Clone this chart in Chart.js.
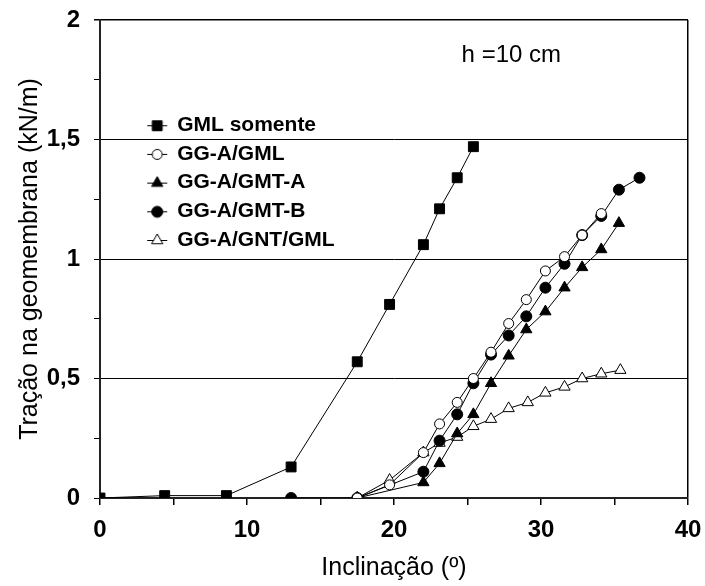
<!DOCTYPE html>
<html>
<head>
<meta charset="utf-8">
<script src="https://cdn.jsdelivr.net/npm/chart.js@4/dist/chart.umd.min.js"></script>
<style>
  body { margin: 0; background: #fff; }
  #wrap { width: 705px; height: 586px; }
</style>
</head>
<body>
<div id="wrap"><canvas id="chart" width="705" height="586"></canvas></div>
<script>
// series data (x = inclinação in degrees, y = tração in kN/m)
const labels = ['GML somente', 'GG-A/GML', 'GG-A/GMT-A', 'GG-A/GMT-B', 'GG-A/GNT/GML'];

const gmlX = [0, 4.4, 8.6, 13.0, 17.5, 19.7, 22.0, 23.1, 24.3, 25.4];
const gmlY = [0, 0.01, 0.01, 0.13, 0.57, 0.81, 1.06, 1.21, 1.34, 1.47];

const ggaGmlX = [17.5, 19.7, 22.0, 23.1, 24.3, 25.4, 26.6, 27.8, 29.0, 30.3, 31.6, 32.8, 34.1];
const ggaGmlY = [0, 0.055, 0.19, 0.31, 0.40, 0.50, 0.61, 0.73, 0.83, 0.95, 1.01, 1.10, 1.19];

const gmtAX = [17.5, 22.0, 23.1, 24.3, 25.4, 26.6, 27.8, 29.0, 30.3, 31.6, 32.8, 34.1, 35.3];
const gmtAY = [0, 0.065, 0.145, 0.27, 0.35, 0.48, 0.595, 0.705, 0.78, 0.88, 0.965, 1.04, 1.15];

const gmtBX = [13.0, 17.5, 22.0, 23.1, 24.3, 25.4, 26.6, 27.8, 29.0, 30.3, 31.6, 32.8, 34.1, 35.3, 36.7];
const gmtBY = [0, 0, 0.11, 0.24, 0.35, 0.48, 0.60, 0.68, 0.76, 0.88, 0.98, 1.10, 1.18, 1.29, 1.34];

const gntX = [17.5, 19.7, 22.0, 23.1, 24.3, 25.4, 26.6, 27.8, 29.1, 30.3, 31.6, 32.8, 34.1, 35.4];
const gntY = [0, 0.075, 0.19, 0.23, 0.255, 0.30, 0.33, 0.375, 0.40, 0.44, 0.465, 0.50, 0.52, 0.535];

const xTicksMajor = [0, 10, 20, 30, 40];
const yTicksMajor = [0, 0.5, 1, 1.5, 2];

const FONT = '"Liberation Sans", Arial, Helvetica, sans-serif';
Chart.defaults.font.family = FONT;
Chart.defaults.color = '#000';

function pts(xs, ys) {
  return xs.map((x, i) => ({ x: x, y: ys[i] }));
}

const styles = [
  { pointStyle: 'rect', radius: 7, fill: '#000' },
  { pointStyle: 'circle', radius: 5, fill: '#fff' },
  { pointStyle: 'triangle', radius: 6.5, fill: '#000' },
  { pointStyle: 'circle', radius: 5.5, fill: '#000' },
  { pointStyle: 'triangle', radius: 6.5, fill: '#fff' }
];
const xs = [gmlX, ggaGmlX, gmtAX, gmtBX, gntX];
const ys = [gmlY, ggaGmlY, gmtAY, gmtBY, gntY];

const datasets = labels.map((lab, i) => ({
  label: lab,
  data: pts(xs[i], ys[i]),
  borderColor: '#000',
  borderWidth: 1,
  pointStyle: styles[i].pointStyle,
  pointRadius: styles[i].radius,
  pointBackgroundColor: styles[i].fill,
  pointBorderColor: '#000',
  pointBorderWidth: 1,
  tension: 0
}));

// little line + marker icons for the legend
function legendIcon(st) {
  const c = document.createElement('canvas');
  c.width = 64; c.height = 22;
  const g = c.getContext('2d');
  g.strokeStyle = '#000';
  g.lineWidth = 1;
  g.beginPath();
  g.moveTo(42, 11.5); g.lineTo(62, 11.5);
  g.stroke();
  g.fillStyle = st.fill;
  Chart.helpers.drawPoint(g, { pointStyle: st.pointStyle, radius: st.radius, borderWidth: 1 }, 52, 11.5);
  return c;
}
const icons = styles.map(legendIcon);

const noteText = 'h =10 cm';
const notePlugin = {
  id: 'note',
  afterDraw(chart) {
    const ctx = chart.ctx;
    const px = chart.scales.x.getPixelForValue(24.6);
    const py = chart.scales.y.getPixelForValue(1.853);
    ctx.save();
    ctx.font = '24px ' + FONT;
    ctx.fillStyle = '#000';
    ctx.textBaseline = 'middle';
    ctx.textAlign = 'left';
    ctx.fillText(noteText, px, py);
    ctx.restore();
  }
};

new Chart('chart', {
  type: 'line',
  data: { datasets: datasets },
  options: {
    responsive: false,
    animation: false,
    layout: { padding: { top: 20, right: 17, left: 0, bottom: 0 } },
    plugins: {
      tooltip: { enabled: false },
      legend: {
        position: 'chartArea',
        align: 'start',
        title: { display: true, text: '', font: { size: 10, lineHeight: 1.2 }, padding: { top: 0, bottom: 95 } },
        labels: {
          usePointStyle: true,
          pointStyleWidth: 59,
          padding: 7.7,
          color: '#000',
          font: { size: 21, weight: 'bold', family: FONT },
          generateLabels(chart) {
            const items = Chart.defaults.plugins.legend.labels.generateLabels(chart);
            items.forEach((it, i) => { it.pointStyle = icons[i]; });
            return items;
          }
        }
      }
    },
    scales: {
      x: {
        type: 'linear',
        min: 0,
        max: 40,
        afterFit(s) { s.height = 88; s.paddingLeft = 0; s.paddingRight = 0; },
        border: { color: '#222', width: 2 },
        grid: {
          color: c => (c.tick && c.tick.value === 40) ? '#000' : 'rgba(0,0,0,0)',
          tickColor: '#000',
          tickLength: 7,
          lineWidth: 1.5
        },
        ticks: {
          stepSize: 5,
          autoSkip: false,
          maxRotation: 0,
          padding: 11,
          color: '#000',
          font: { size: 24, weight: 'bold' },
          callback: v => xTicksMajor.includes(v) ? String(v) : ''
        },
        title: {
          display: true,
          text: 'Inclinação (º)',
          color: '#000',
          font: { size: 25, lineHeight: 1 },
          padding: { top: 0, bottom: 5 }
        }
      },
      y: {
        type: 'linear',
        min: 0,
        max: 2,
        afterFit(s) { s.width = 100; s.paddingTop = 0; s.paddingBottom = 0; },
        border: { color: '#222', width: 2 },
        grid: {
          color: c => (c.tick && c.tick.value > 0 && yTicksMajor.includes(c.tick.value)) ? '#000' : 'rgba(0,0,0,0)',
          lineWidth: c => (c.tick && c.tick.value === 2) ? 1.5 : 1,
          tickColor: '#000',
          tickLength: 6
        },
        ticks: {
          stepSize: 0.25,
          autoSkip: false,
          padding: 14,
          color: '#000',
          font: { size: 24, weight: 'bold' },
          callback: v => yTicksMajor.includes(v) ? String(v).replace('.', ',') : ''
        },
        title: {
          display: true,
          text: 'Tração na geomembrana (kN/m)',
          color: '#000',
          font: { size: 25, lineHeight: 1 },
          padding: { top: 18, bottom: 0 }
        }
      }
    }
  },
  plugins: [notePlugin]
});
</script>
</body>
</html>
